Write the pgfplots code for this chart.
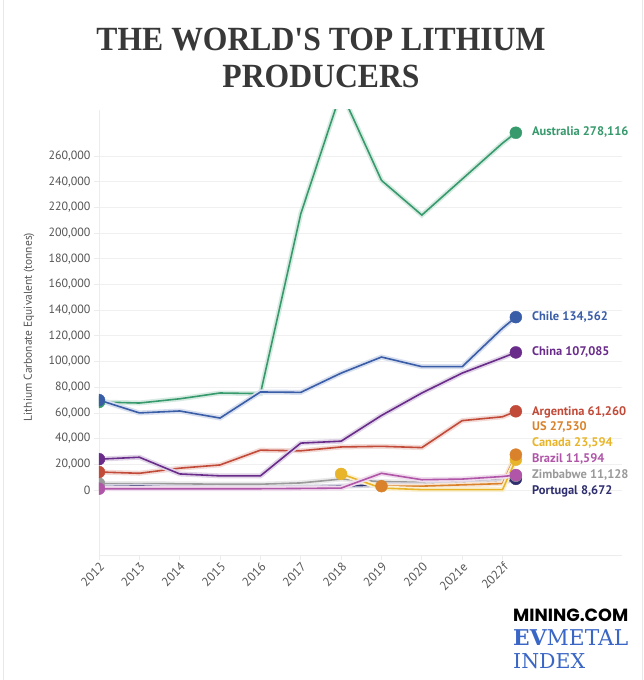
\documentclass[border=0pt]{standalone}
\usepackage{pgfplots}
\pgfplotsset{compat=1.18}
\usepackage{fontspec}
\setmainfont{PT Sans}
\newfontfamily\titlefont{Liberation Serif}
\newfontfamily\logofont{Poppins}
\newfontfamily\slabfont{DejaVu Serif}
\definecolor{cAus}{HTML}{379A6C}
\definecolor{cChile}{HTML}{3A5DA8}
\definecolor{cChina}{HTML}{6A2C8A}
\definecolor{cArg}{HTML}{C24A38}
\definecolor{cUS}{HTML}{D9822B}
\definecolor{cCan}{HTML}{E8B52A}
\definecolor{cBra}{HTML}{B055A8}
\definecolor{cZim}{HTML}{9A9A9A}
\definecolor{cPor}{HTML}{2F2F70}
\definecolor{txt}{HTML}{555555}
\definecolor{ttl}{HTML}{383838}
\definecolor{logoblue}{HTML}{3A66C6}
\pgfdeclareplotmark{rhalf}{%
  \pgfpathmoveto{\pgfpoint{0pt}{\pgfplotmarksize}}%
  \pgfpatharc{90}{-90}{\pgfplotmarksize}%
  \pgfpathclose
  \pgfusepathqfillstroke}
\pgfplotsset{ser/.style={color=#1, line width=1.6pt, preaction={draw=#1!20, line width=5pt}},
  dot/.style={only marks, mark=*, mark size=6pt, color=#1, mark options={fill=#1, draw=#1}},
  hdot/.style={only marks, mark=rhalf, mark size=6pt, color=#1, mark options={fill=#1, draw=#1}}}
\begin{document}
\begin{tikzpicture}
\path[fill=white, use as bounding box] (0,0) rectangle (644bp,680bp);
\draw[gray!18, line width=1bp] (3bp,0) -- (3bp,680bp);
\draw[gray!18, line width=1bp] (642bp,0) -- (642bp,680bp);
\begin{axis}[
  at={(99bp,125bp)}, anchor=south west,
  scale only axis, width=523bp, height=445bp,
  xmin=0, xmax=12.96, ymin=-50600, ymax=295800,
  axis x line*=bottom, axis y line*=left,
  axis line style={draw=gray!15, line width=0.8pt, -},
  xtick={0,1,2,3,4,5,6,7,8,9,10},
  xticklabels={2012,2013,2014,2015,2016,2017,2018,2019,2020,2021e,2022f},
  ytick={0,20000,40000,60000,80000,100000,120000,140000,160000,180000,200000,220000,240000,260000},
  scaled y ticks=false,
  yticklabel={\pgfmathprintnumber[fixed, precision=0, 1000 sep={,}, assume math mode=true]{\tick}},
  ymajorgrids, grid style={draw=gray!12, line width=0.8pt},
  tick align=outside, major tick length=5bp,
  tick style={draw=gray!15, line width=0.8pt},
  yticklabel style={font=\fontsize{12}{14}\selectfont, text=txt},
  xticklabel style={font=\fontsize{12.5}{14}\selectfont, text=txt, rotate=45, anchor=north east, inner sep=1pt},
]
% Australia
\addplot[ser=cAus] coordinates {(0,68500) (1,67700) (2,71000) (3,75500) (4,75000) (5,215000) (6,310000) (7,241000) (8,214000) (9,242000) (10,270000) (10.33,278116)};
% Chile
\addplot[ser=cChile] coordinates {(0,70000) (1,60000) (2,61500) (3,56000) (4,76300) (5,76000) (6,91000) (7,103500) (8,96000) (9,96000) (10,126000) (10.33,134562)};
% Zimbabwe
\addplot[ser=cZim] coordinates {(0,5000) (1,5000) (2,4800) (3,4500) (4,4500) (5,5500) (6,8500) (7,6500) (8,6000) (9,6500) (10,9000) (10.33,11128)};
% Portugal
\addplot[ser=cPor] coordinates {(0,2500) (1,3000) (2,2000) (3,1500) (4,1500) (5,2000) (6,3000) (7,4000) (8,4000) (9,5000) (10,6000) (10.33,8672)};
% US
\addplot[ser=cUS] coordinates {(7,3000) (8,3000) (9,4000) (10,5000) (10.33,27530)};
% Canada
\addplot[ser=cCan] coordinates {(6,12500) (7,1500) (8,300) (9,300) (10,300) (10.33,23594)};
% Brazil
\addplot[ser=cBra] coordinates {(0,1000) (1,1000) (2,1000) (3,1000) (4,1000) (5,1200) (6,1500) (7,13000) (8,8000) (9,8500) (10,10500) (10.33,11594)};
% Argentina
\addplot[ser=cArg] coordinates {(0,14000) (1,13000) (2,17000) (3,19500) (4,31000) (5,30500) (6,33500) (7,34000) (8,33000) (9,54000) (10,57000) (10.33,61260)};
% China
\addplot[ser=cChina] coordinates {(0,24000) (1,25500) (2,12500) (3,11000) (4,11000) (5,36500) (6,38000) (7,58000) (8,75500) (9,91000) (10,103000) (10.33,107085)};
% start dots (cut by the axis edge)
\addplot[hdot=cAus] coordinates {(0,68500)};
\addplot[hdot=cChile] coordinates {(0,70000)};
\addplot[hdot=cZim] coordinates {(0,5000)};
\addplot[hdot=cBra] coordinates {(0,1000)};
\addplot[hdot=cArg] coordinates {(0,14000)};
\addplot[hdot=cChina] coordinates {(0,24000)};
\addplot[dot=cCan] coordinates {(6,12500)};
\addplot[dot=cUS] coordinates {(7,3000)};
% end dots
\addplot[dot=cPor] coordinates {(10.33,8672)};
\addplot[dot=cZim] coordinates {(10.33,11128)};
\addplot[dot=cBra] coordinates {(10.33,11594)};
\addplot[dot=cCan] coordinates {(10.33,23594)};
\addplot[dot=cUS] coordinates {(10.33,27530)};
\addplot[dot=cArg] coordinates {(10.33,61260)};
\addplot[dot=cChina] coordinates {(10.33,107085)};
\addplot[dot=cChile] coordinates {(10.33,134562)};
\addplot[dot=cAus] coordinates {(10.33,278116)};
\end{axis}
% y label
\node[rotate=90, text=txt, font=\fontsize{11.5}{13}\selectfont] at (29bp,353bp) {Lithium Carbonate Equivalent (tonnes)};
% series labels
\begin{scope}[every node/.style={anchor=west, inner sep=0pt, font=\bfseries\fontsize{12.5}{14}\selectfont}]
\node[text=cAus] at (532bp,548bp) {Australia 278,116};
\node[text=cChile] at (532bp,363bp) {Chile 134,562};
\node[text=cChina] at (532bp,328bp) {China 107,085};
\node[text=cArg] at (532bp,268bp) {Argentina 61,260};
\node[text=cUS] at (532bp,253bp) {US 27,530};
\node[text=cCan] at (532bp,237bp) {Canada 23,594};
\node[text=cBra] at (532bp,221bp) {Brazil 11,594};
\node[text=cZim] at (532bp,205bp) {Zimbabwe 11,128};
\node[text=cPor] at (532bp,189bp) {Portugal 8,672};
\end{scope}
% title
\node[anchor=base, text=ttl, font=\titlefont\bfseries\fontsize{34}{40}\selectfont, inner sep=0pt] at (321bp,629bp) {\scalebox{0.935}[1]{THE WORLD'S TOP LITHIUM}};
\node[anchor=base, text=ttl, font=\titlefont\bfseries\fontsize{34}{40}\selectfont, inner sep=0pt] at (321bp,592bp) {\scalebox{0.935}[1]{PRODUCERS}};
% logo
\node[anchor=base west, inner sep=0pt] at (513bp,58bp) {\resizebox{115bp}{!}{\logofont\bfseries MINING.COM}};
\node[anchor=base west, inner sep=0pt, text=logoblue] at (513bp,35bp) {\resizebox{115bp}{!}{\slabfont{\bfseries EV}METAL}};
\node[anchor=base west, inner sep=0pt, text=logoblue] at (513bp,12bp) {\resizebox{72bp}{!}{\slabfont INDEX}};
\end{tikzpicture}
\end{document}
